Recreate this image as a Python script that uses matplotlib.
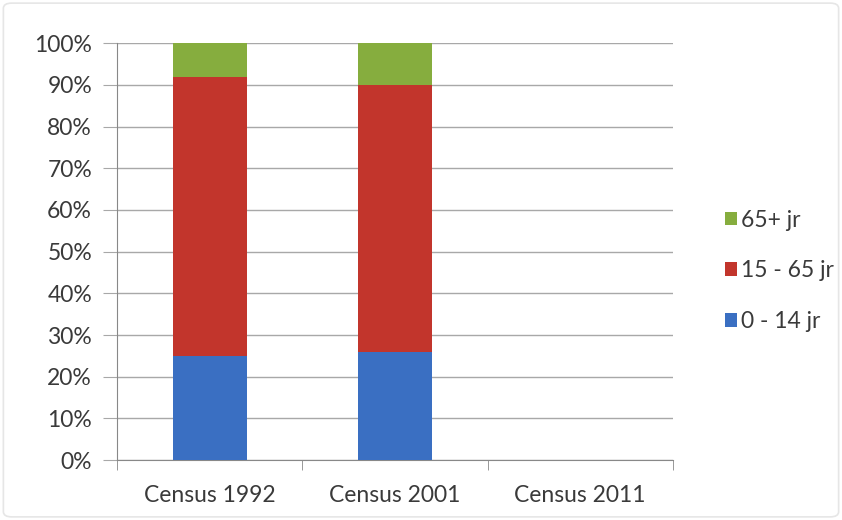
import matplotlib
matplotlib.use("Agg")
import matplotlib.pyplot as plt
from matplotlib.ticker import FixedLocator
from matplotlib.patches import FancyBboxPatch

plt.rcParams['font.family'] = ['Lato', 'DejaVu Sans']

categories = ["Census 1992", "Census 2001", "Census 2011"]
series_names = ["0 - 14 jr", "15 - 65 jr", "65+ jr"]
young = [25, 26, 0]
middle = [67, 64, 0]
old = [8, 10, 0]
colors = ["#3a6fc2", "#c2352c", "#86ad3e"]
yticks = list(range(0, 101, 10))
ytick_labels = [f"{v}%" for v in yticks]

FS = 16.5
TXT = "#3a3a3a"

fig = plt.figure(figsize=(8.42, 5.20), dpi=100)
fig.patch.set_facecolor("white")
fig.patches.append(FancyBboxPatch((0.004, 0.006), 0.992, 0.988, boxstyle="round,pad=0,rounding_size=0.01",
                                  transform=fig.transFigure, fill=False, edgecolor="#e6e6e6", linewidth=1.2))
ax = fig.add_axes([0.139, 0.115, 0.660, 0.802])

x = list(range(len(categories)))
w = 0.4
b1 = ax.bar(x, young, w, color=colors[0], label=series_names[0], zorder=3)
b2 = ax.bar(x, middle, w, bottom=young, color=colors[1], label=series_names[1], zorder=3)
bottom2 = [a + b for a, b in zip(young, middle)]
b3 = ax.bar(x, old, w, bottom=bottom2, color=colors[2], label=series_names[2], zorder=3)

ax.set_xlim(-0.5, len(categories) - 0.5)
ax.set_ylim(0, 100)
ax.set_yticks(yticks)
ax.set_yticklabels(ytick_labels, fontsize=FS, color=TXT)
ax.yaxis.grid(True, color="#a8a8a8", linewidth=1.0, zorder=0)
ax.set_xticks(x)
ax.set_xticklabels(categories, fontsize=FS, color=TXT)
ax.xaxis.set_minor_locator(FixedLocator([i - 0.5 for i in range(len(categories) + 1)]))
ax.tick_params(axis='x', which='major', length=0, pad=18)
ax.tick_params(axis='x', which='minor', length=7, color="#888888", direction='out')
ax.tick_params(axis='y', length=10, color="#a8a8a8", direction='out', pad=8)

for s in ["top", "right"]:
    ax.spines[s].set_visible(False)
ax.spines["left"].set_color("#888888")
ax.spines["bottom"].set_color("#888888")

handles = [b3, b2, b1]
leg = fig.legend(handles, [h.get_label() for h in handles], loc="center left",
                 bbox_to_anchor=(0.847, 0.479), frameon=False, fontsize=FS, borderpad=0,
                 handlelength=0.55, handleheight=0.55, handletextpad=0.15, labelspacing=1.3)
for t in leg.get_texts():
    t.set_color(TXT)

fig.savefig("out.png", dpi=100)
